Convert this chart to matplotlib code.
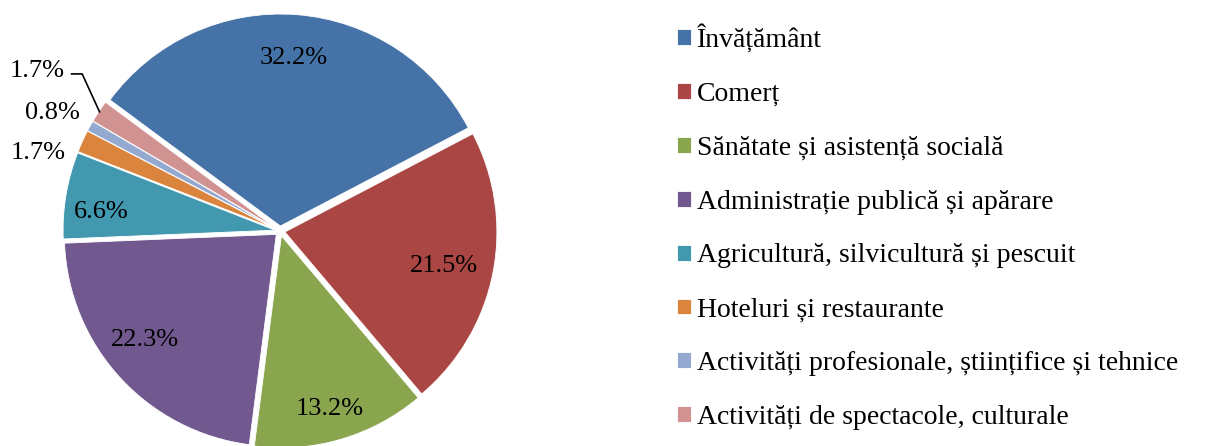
import matplotlib.pyplot as plt
import numpy as np

plt.rcParams['font.family'] = ['Liberation Serif', 'DejaVu Serif']

# data
sectors = ['Învățământ', 'Comerț', 'Sănătate și asistență socială',
           'Administrație publică și apărare', 'Agricultură, silvicultură și pescuit',
           'Hoteluri și restaurante', 'Activități profesionale, științifice și tehnice',
           'Activități de spectacole, culturale']
shares = [32.2, 21.5, 13.2, 22.3, 6.6, 1.7, 0.8, 1.7]
colors = ['#4572A7', '#AA4643', '#89A54E', '#71588F',
          '#4198AF', '#DB843D', '#93A9CF', '#D19392']

W, H = 1209, 446
fig = plt.figure(figsize=(W / 100, H / 100), dpi=100)

# pie centre and radius in pixels
cx, cy, R = 280, 446 - 231, 212
half = 260
ax = fig.add_axes([(cx - half) / W, (cy - half) / H, 2 * half / W, 2 * half / H])
ax.axis('off')

wedges, _ = ax.pie(shares, colors=colors, startangle=143.5, counterclock=False,
                   explode=[5 / R] * len(shares), radius=1,
                   wedgeprops=dict(edgecolor='white', linewidth=0.6))
ax.set_xlim(-half / R, half / R)
ax.set_ylim(-half / R, half / R)
ax.set_aspect('equal')

# label radius and angle nudge per slice
lab_r = [0.82, 0.79, 0.87, 0.82, 0.85, 1.20, 1.21, 1.37]
lab_da = [0, -1, -0.7, -3.5, 3.5, 6.5, 1.5, 0]
for i, (w, v) in enumerate(zip(wedges, shares)):
    ang = np.deg2rad((w.theta1 + w.theta2) / 2 + lab_da[i])
    x, y = lab_r[i] * np.cos(ang), lab_r[i] * np.sin(ang)
    ax.text(x, y, f'{v:.1f}%', ha='center', va='center', fontsize=19)
    if i == len(shares) - 1:
        mid = np.deg2rad((w.theta1 + w.theta2) / 2)
        ex, ey = 1.02 * np.cos(mid), 1.02 * np.sin(mid)
        x0 = x + 0.16
        ax.plot([x0, x0 + 0.05, ex], [y - 0.014, y - 0.014, ey],
                color='black', lw=1.2, clip_on=False)

fig.legend(wedges, sectors, loc='upper left', bbox_to_anchor=(677 / W, 1 - 24 / H),
           frameon=False, fontsize=20, handlelength=0.5, handleheight=0.5,
           handletextpad=0.22, labelspacing=1.04, borderpad=0, borderaxespad=0)

fig.savefig('out.png', dpi=100)
